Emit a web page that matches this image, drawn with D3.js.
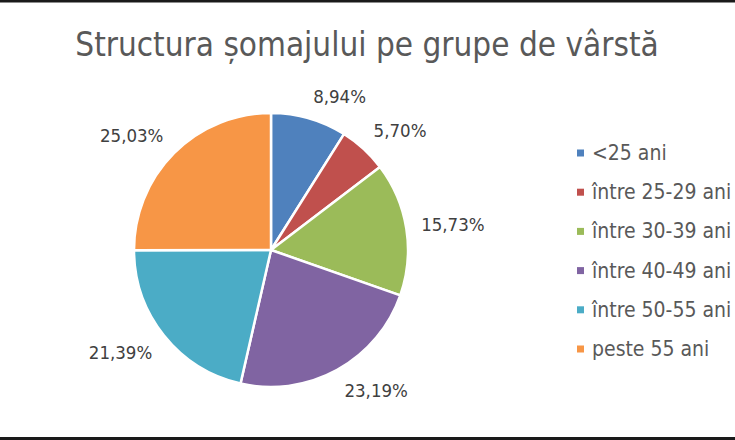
<!DOCTYPE html>
<html><head><meta charset="utf-8">
<script src="https://cdn.jsdelivr.net/npm/d3@7/dist/d3.min.js"></script>
<style>body{margin:0;background:#fff}svg{display:block}text{font-family:"DejaVu Sans Condensed","DejaVu Sans",sans-serif}</style>
</head><body>
<script>
const categories = ["<25 ani","între 25-29 ani","între 30-39 ani","între 40-49 ani","între 50-55 ani","peste 55 ani"];
const values = [8.94, 5.70, 15.73, 23.19, 21.39, 25.03];
const labels = ["8,94%","5,70%","15,73%","23,19%","21,39%","25,03%"];
const colors = ["#4F81BD","#C0504D","#9BBB59","#8064A2","#4BACC6","#F79646"];
const title = "Structura șomajului pe grupe de vârstă";

const W=735,H=440;
const svg=d3.select("body").append("svg").attr("width",W).attr("height",H);
svg.append("rect").attr("width",W).attr("height",H).attr("fill","#fff");
svg.append("rect").attr("x",0).attr("y",0).attr("width",W).attr("height",2.5).attr("fill","#1a1a1a");
svg.append("rect").attr("x",0).attr("y",437).attr("width",W).attr("height",3).attr("fill","#1a1a1a");

svg.append("text").attr("x",367).attr("y",56).attr("text-anchor","middle")
  .attr("font-size",33).attr("fill","#595959").text(title);

const cx=271, cy=250, R=137;
const pie=d3.pie().sort(null).value(d=>d)(values);
const arc=d3.arc().innerRadius(0).outerRadius(R);
const g=svg.append("g").attr("transform",`translate(${cx},${cy})`);
g.selectAll("path").data(pie).join("path").attr("d",arc)
  .attr("fill",(d,i)=>colors[i]).attr("stroke","#fff").attr("stroke-width",2.5).attr("stroke-linejoin","round");

const gap=15;
g.selectAll("text.lbl").data(pie).join("text").attr("class","lbl")
  .attr("font-size",18.5).attr("fill","#404040").attr("text-anchor","middle")
  .text((d,i)=>labels[i])
  .each(function(d){
    const a=(d.startAngle+d.endAngle)/2;
    const bb=this.getBBox();
    const w=bb.width,h=15;
    const s=Math.sin(a), c=-Math.cos(a);
    const px=(R+gap)*s, py=(R+gap)*c;
    const kx=Math.sign(s), ky=Math.max(-1,Math.min(1,c*1.6));
    const x=px+kx*w/2, y=py+ky*h/2;
    d3.select(this).attr("x",x).attr("y",y+6.5);
  });

const lg=svg.append("g");
const ly=d3.scalePoint().domain(categories).range([153,349]);
lg.selectAll("rect").data(categories).join("rect")
  .attr("x",577).attr("y",d=>ly(d)-3.5).attr("width",7).attr("height",7).attr("fill",(d,i)=>colors[i]);
lg.selectAll("text").data(categories).join("text")
  .attr("x",592).attr("y",d=>ly(d)+7).attr("font-size",21).attr("fill","#595959").text(d=>d);
</script>
</body></html>
